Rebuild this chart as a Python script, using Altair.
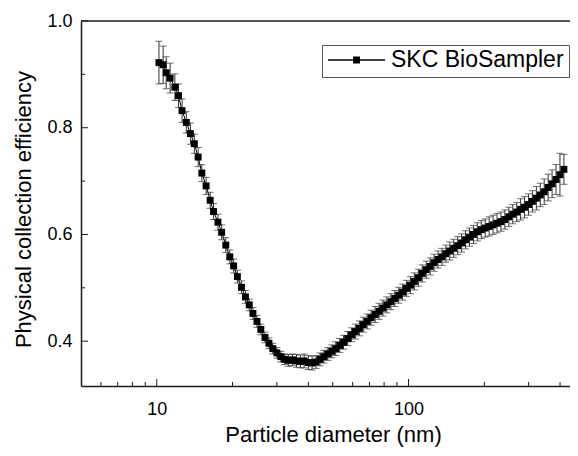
import altair as alt
import pandas as pd

# ---------------- data ----------------
diameter_nm = [
    10.2, 10.6, 10.9, 11.3, 11.8, 12.2, 12.6, 13.1, 13.6, 14.1, 14.6, 15.1, 15.7, 16.3, 16.8, 17.5, 18.1, 18.8, 19.5,
    20.2, 20.9, 21.7, 22.5, 23.3, 24.1, 25.0, 25.9, 26.9, 27.9, 28.9, 30.0, 31.1, 32.2, 33.4, 34.6, 35.9, 37.2, 38.5,
    40.0, 41.4, 42.9, 44.5, 46.1, 47.8, 49.6, 51.4, 53.3, 55.2, 57.3, 59.4, 61.5, 63.8, 66.1, 68.5, 71.0, 73.7, 76.4,
    79.1, 82.0, 85.1, 88.2, 91.4, 94.7, 98.2,
    101.8, 105.5, 109.4, 113.4, 117.6, 121.9, 126.3, 131.0, 135.8, 140.7, 145.9, 151.2, 156.8, 162.5, 168.5, 174.7,
    181.1, 187.7, 194.6, 201.7, 209.1, 216.7, 224.7, 232.9, 241.4, 250.3, 259.5, 269.0, 278.8, 289.0, 299.6, 310.6,
    322.0, 333.8, 346.0, 358.7, 371.8, 385.4, 399.5, 414.2,
]
efficiency = [
    0.922, 0.918, 0.903, 0.893, 0.876, 0.860, 0.832, 0.810, 0.789, 0.770, 0.745, 0.715, 0.691, 0.664, 0.643, 0.623,
    0.604, 0.580, 0.558,
    0.541, 0.521, 0.501, 0.483, 0.468, 0.452, 0.437, 0.422, 0.407, 0.396, 0.386, 0.378, 0.371, 0.366, 0.364, 0.365,
    0.363, 0.362, 0.363, 0.360, 0.359, 0.361, 0.366, 0.371, 0.376, 0.381, 0.386, 0.392, 0.398, 0.405, 0.412, 0.418,
    0.424, 0.431, 0.437, 0.444, 0.450, 0.456, 0.462, 0.468, 0.474, 0.480, 0.486, 0.492, 0.499,
    0.505, 0.512, 0.519, 0.527, 0.534, 0.540, 0.547, 0.553, 0.558, 0.564, 0.569, 0.574, 0.579, 0.584, 0.590, 0.595,
    0.600, 0.605, 0.609, 0.612, 0.615, 0.618, 0.621, 0.624, 0.628, 0.633, 0.638, 0.642, 0.647, 0.651, 0.656, 0.662,
    0.668, 0.674, 0.680, 0.688, 0.695, 0.703, 0.712, 0.722,
]
error = [
    0.040, 0.035, 0.030, 0.028, 0.025, 0.022, 0.022, 0.020, 0.020, 0.018, 0.018, 0.016, 0.016, 0.015, 0.015, 0.015,
    0.014, 0.014, 0.013,
    0.013, 0.012, 0.012, 0.012, 0.011, 0.011, 0.011, 0.010, 0.010, 0.010,
    0.010, 0.010, 0.010, 0.010, 0.011, 0.011, 0.012, 0.012, 0.013, 0.013,
    0.013, 0.012, 0.012, 0.012, 0.012, 0.012, 0.013, 0.013, 0.013, 0.013,
    0.013, 0.014, 0.014, 0.014, 0.014, 0.014, 0.015, 0.015, 0.015, 0.015,
    0.015, 0.015, 0.015, 0.015, 0.015,
    0.016, 0.016, 0.016, 0.016, 0.016, 0.016, 0.016, 0.016, 0.016, 0.016,
    0.017, 0.017, 0.017, 0.017, 0.017, 0.017, 0.017, 0.017, 0.017, 0.017,
    0.018, 0.018, 0.018, 0.018, 0.018, 0.018, 0.018, 0.018,
    0.020, 0.020, 0.020, 0.020, 0.022, 0.022, 0.024, 0.025, 0.026, 0.028, 0.040, 0.028,
]
series_name = "SKC BioSampler"

x_major = [10, 100]
x_minor = [6, 7, 8, 9, 20, 30, 40, 50, 60, 70, 80, 90, 200, 300, 400]
y_major = [0.4, 0.6, 0.8, 1.0]
y_minor = [0.5, 0.7, 0.9]

x_title = "Particle diameter (nm)"
y_title = "Physical collection efficiency"

# ---------------- layout ----------------
W, H = 489, 365
FONT = "Liberation Sans"
INK = "#1a1a1a"

df = pd.DataFrame({"d": diameter_nm, "eff": efficiency, "err": error})
df["lo"] = df["eff"] - df["err"]
df["hi"] = df["eff"] + df["err"]
df["series"] = series_name

xscale = alt.Scale(type="log", domain=[5, 438], nice=False)
yscale = alt.Scale(domain=[0.316, 1.0], nice=False, zero=False)

xaxis = alt.Axis(
    values=x_major, format="d", title=x_title, grid=False, ticks=False, tickSize=0,
    labelFont=FONT, labelFontSize=18, labelColor="black", labelPadding=28,
    labelBaseline="alphabetic", labelFlush=False,
    titleFont=FONT, titleFontSize=22, titleFontWeight="normal", titleColor="black",
    titleBaseline="alphabetic", titleY=55, titleX=252, titleAlign="center",
    domainColor=INK, domainWidth=1.5,
)
yaxis = alt.Axis(
    values=y_major, format=".1f", title=y_title, grid=False, ticks=False, tickSize=0,
    labelFont=FONT, labelFontSize=18, labelColor="black", labelPadding=9, labelFlush=False,
    titleFont=FONT, titleFontSize=22, titleFontWeight="normal", titleColor="black",
    titleAngle=270, titleBaseline="alphabetic", titleAlign="center", titleX=-51, titleY=188,
    domainColor=INK, domainWidth=1.5,
)

X = alt.X("d:Q", scale=xscale, axis=xaxis)
Y = alt.Y("eff:Q", scale=yscale, axis=yaxis)

base = alt.Chart(df)

err_rule = base.mark_rule(color="#333", strokeWidth=1).encode(
    x=X, y=alt.Y("lo:Q", scale=yscale, axis=yaxis), y2="hi:Q"
)
cap_lo = base.mark_tick(orient="horizontal", size=7, thickness=1, color="#333").encode(
    x=X, y=alt.Y("lo:Q", scale=yscale, axis=yaxis)
)
cap_hi = base.mark_tick(orient="horizontal", size=7, thickness=1, color="#333").encode(
    x=X, y=alt.Y("hi:Q", scale=yscale, axis=yaxis)
)
line = base.mark_line(color="black", strokeWidth=1).encode(x=X, y=Y)
points = base.mark_point(shape="square", filled=True, size=48, opacity=1).encode(
    x=X, y=Y,
    color=alt.Color(
        "series:N",
        scale=alt.Scale(range=["black"]),
        legend=alt.Legend(
            title=None, orient="none", legendX=241, legendY=24,
            symbolType="M-1,0H1M-0.095,-0.095H0.095V0.095H-0.095Z",
            symbolSize=3249, symbolStrokeWidth=1.5, symbolStrokeColor="black",
            symbolFillColor="black", symbolOpacity=1, clipHeight=20,
            labelFont=FONT, labelFontSize=23, labelColor="black", labelOffset=5,
            labelLimit=400, padding=5, strokeColor="#555", fillColor="white",
        ),
    ),
)

# inward axis ticks
xt_major = alt.Chart(pd.DataFrame({"v": x_major})).mark_rule(color=INK, strokeWidth=1).encode(
    x=alt.X("v:Q", scale=xscale, axis=xaxis), y=alt.value(H), y2=alt.value(H - 7)
)
xt_minor = alt.Chart(pd.DataFrame({"v": x_minor})).mark_rule(color=INK, strokeWidth=1).encode(
    x=alt.X("v:Q", scale=xscale, axis=xaxis), y=alt.value(H), y2=alt.value(H - 4)
)
yt_major = alt.Chart(pd.DataFrame({"v": y_major})).mark_rule(color=INK, strokeWidth=1).encode(
    y=alt.Y("v:Q", scale=yscale, axis=yaxis), x=alt.value(0), x2=alt.value(7)
)
yt_minor = alt.Chart(pd.DataFrame({"v": y_minor})).mark_rule(color=INK, strokeWidth=1).encode(
    y=alt.Y("v:Q", scale=yscale, axis=yaxis), x=alt.value(0), x2=alt.value(4)
)
top_frame = alt.Chart(pd.DataFrame({"k": [0]})).mark_rule(color=INK, strokeWidth=1.5).encode(
    x=alt.value(0), x2=alt.value(W), y=alt.value(0)
)

chart = alt.layer(
    err_rule, cap_lo, cap_hi, line, points,
    xt_major, xt_minor, yt_major, yt_minor, top_frame,
).properties(
    width=W, height=H,
    autosize=alt.AutoSizeParams(type="none"),
    padding={"left": 73, "top": 13, "right": 0, "bottom": 62},
    background="white",
).configure_view(stroke=None)

chart.save("out.html", embed_options={"renderer": "svg", "actions": False})
